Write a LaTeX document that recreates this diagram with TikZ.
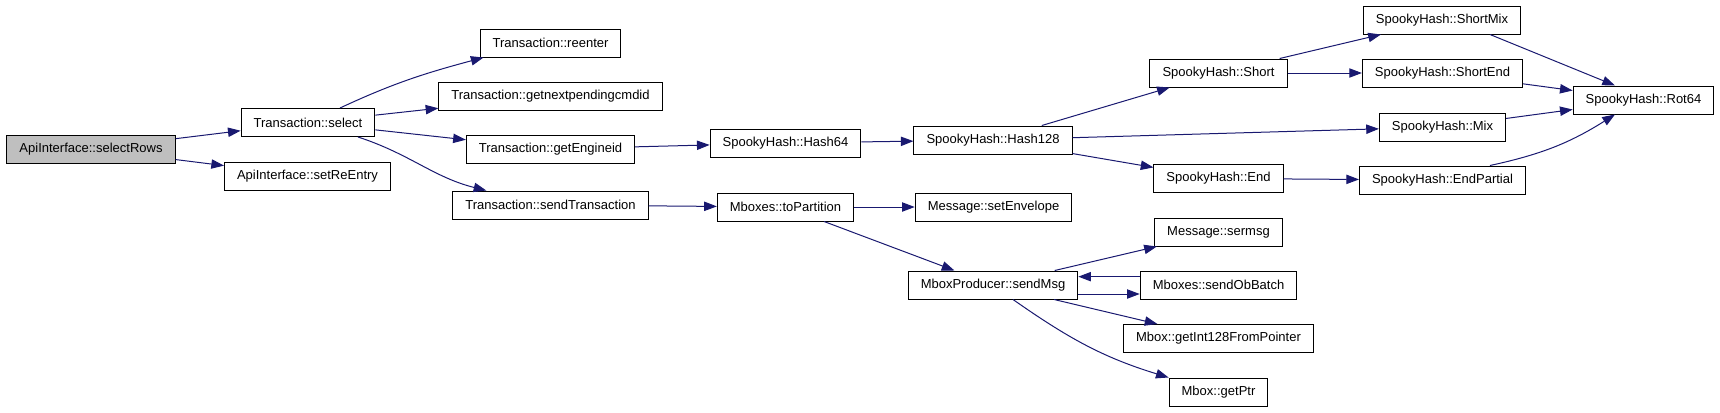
\documentclass[tikz,border=0pt]{standalone}
\usepackage{fontspec}
\setmainfont{Liberation Sans}
\usetikzlibrary{arrows.meta}
\definecolor{edgeBlue}{RGB}{25,25,112}
\definecolor{rootGray}{RGB}{191,191,191}

\begin{document}
\begin{tikzpicture}[
    x=0.75pt, y=-0.75pt,
    callBox/.style={draw=black,line width=0.75pt,fill=white,
                    minimum height=21pt,inner xsep=9.4pt,inner ysep=0pt,
                    font=\fontsize{9.75}{11}\selectfont},
    callRoot/.style={callBox,fill=rootGray},
    callEdge/.style={draw=edgeBlue,line width=0.75pt,
                     -{Triangle[length=9.5pt,width=7pt]}}]
    \useasboundingbox (0,0) rectangle (1720,412);
    % callers on the left
    \node[callRoot] (selectRows)  at (91,149)    {ApiInterface::selectRows};
    \node[callBox]  (select)      at (308,122.5) {Transaction::select};
    \node[callBox]  (setReEntry)  at (307.5,176) {ApiInterface::setReEntry};
    \node[callBox]  (reenter)     at (550.5,43)  {Transaction::reenter};
    \node[callBox]  (nextCmd)     at (550.5,96)  {Transaction::getnextpendingcmdid};
    \node[callBox]  (engineId)    at (550.5,149) {Transaction::getEngineid};
    \node[callBox]  (sendTrans)   at (550.5,205) {Transaction::sendTransaction};
    % hashing and messaging
    \node[callBox]  (hash64)      at (785.5,143) {SpookyHash::Hash64};
    \node[callBox]  (toPartition) at (785.5,207) {Mboxes::toPartition};
    \node[callBox]  (hash128)     at (993,140)   {SpookyHash::Hash128};
    \node[callBox]  (setEnvelope) at (993.5,207) {Message::setEnvelope};
    \node[callBox]  (sendMsg)     at (993,285)   {MboxProducer::sendMsg};
    \node[callBox]  (short)       at (1218.5,73)    {SpookyHash::Short};
    \node[callBox]  (endFn)       at (1218.5,178.5) {SpookyHash::End};
    \node[callBox]  (sermsg)      at (1218.5,232)   {Message::sermsg};
    \node[callBox]  (sendObBatch) at (1218.5,285)   {Mboxes::sendObBatch};
    \node[callBox]  (getInt128)   at (1218.5,338.5) {Mbox::getInt128FromPointer};
    \node[callBox]  (getPtr)      at (1218.5,392)   {Mbox::getPtr};
    \node[callBox]  (shortMix)    at (1442,20)      {SpookyHash::ShortMix};
    \node[callBox]  (shortEnd)    at (1442.5,73)    {SpookyHash::ShortEnd};
    \node[callBox]  (mix)         at (1442.5,127)   {SpookyHash::Mix};
    \node[callBox]  (endPartial)  at (1442.5,180)   {SpookyHash::EndPartial};
    \node[callBox]  (rot64)       at (1643.5,100)   {SpookyHash::Rot64};
    % straight calls
    \foreach \a/\b in {selectRows/select, selectRows/setReEntry,
                       select/nextCmd, select/engineId, engineId/hash64,
                       hash64/hash128, hash128/short, hash128/mix,
                       hash128/endFn, short/shortMix, short/shortEnd,
                       shortEnd/rot64, mix/rot64, endFn/endPartial,
                       sendTrans/toPartition, toPartition/setEnvelope,
                       toPartition/sendMsg, sendMsg/sermsg, sendMsg/getInt128}{
        \draw[callEdge] (\a) -- (\b);
    }
    % bent calls
    \draw[callEdge] ([xshift=24pt]select.north)
        to[out=25,in=195] ([xshift=3pt]reenter.south west);
    \draw[callEdge] ([xshift=37.5pt]select.south)
        to[out=-18,in=166] ([xshift=25.5pt]sendTrans.north west);
    \draw[callEdge] ([xshift=36pt]shortMix.south) -- ([xshift=-21.4pt]rot64.north);
    \draw[callEdge] ([xshift=35.6pt]endPartial.north)
        to[bend right=10] ([xshift=-21.4pt]rot64.south);
    \draw[callEdge] ([xshift=15pt]sendMsg.south)
        to[out=-35,in=163] (getPtr.north west);
    \draw[callEdge] ([yshift=6.25pt]sendObBatch.west) -- ([yshift=6.25pt]sendMsg.east);
    \draw[callEdge] ([yshift=-6.75pt]sendMsg.east) -- ([yshift=-6.75pt]sendObBatch.west);
\end{tikzpicture}
\end{document}
